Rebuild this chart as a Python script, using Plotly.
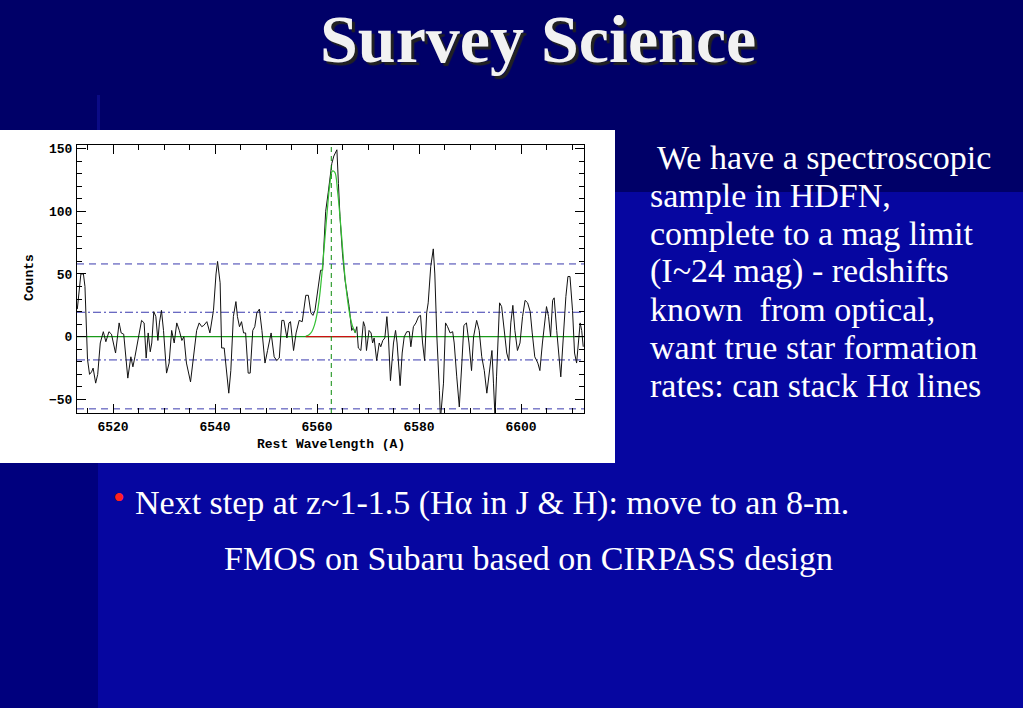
import plotly.graph_objects as go

# ---------------- data ----------------
wavelength = [
    6513.0, 6513.4, 6513.7, 6514.2, 6514.5, 6515.0, 6515.4, 6515.8, 6516.1, 6516.6,
    6517.0, 6517.5, 6518.1, 6518.6, 6519.2, 6519.7, 6520.5, 6521.2, 6521.6, 6522.1,
    6522.9, 6523.5, 6523.9, 6524.3, 6524.8, 6525.6, 6526.1, 6526.5, 6526.9, 6527.3,
    6527.6, 6528.0, 6528.4, 6528.8, 6529.1, 6529.5, 6529.9, 6530.5, 6531.0, 6531.5,
    6532.0, 6532.5, 6533.0, 6533.5, 6533.9, 6534.4, 6535.2, 6535.8, 6536.4, 6536.9,
    6537.4, 6537.8, 6538.4, 6539.0, 6539.7, 6540.2, 6540.5, 6541.0, 6541.3, 6541.8,
    6542.3, 6542.7, 6543.1, 6543.6, 6544.1, 6544.4, 6544.8, 6545.2, 6545.6, 6546.0,
    6546.5, 6546.9, 6547.4, 6547.8, 6548.2, 6548.7, 6549.2, 6549.8, 6550.3, 6551.0,
    6551.6, 6552.1, 6552.6, 6553.1, 6553.5, 6554.1, 6554.5, 6554.8, 6555.4, 6555.9,
    6556.5, 6557.1, 6557.8, 6558.3, 6558.8, 6559.2, 6559.6, 6560.3, 6560.7, 6561.1,
    6561.4, 6561.7, 6562.2, 6562.5, 6562.9, 6563.3, 6563.9, 6564.2, 6564.5, 6565.0,
    6565.5, 6566.0, 6566.3, 6566.8, 6567.1, 6567.5, 6567.8, 6568.1, 6568.6, 6569.1,
    6569.4, 6569.7, 6570.2, 6570.6, 6570.9, 6571.2, 6571.7, 6572.2, 6572.5, 6572.9,
    6573.3, 6573.7, 6574.0, 6574.4, 6575.0, 6575.4, 6575.7, 6576.3, 6576.7, 6577.1,
    6577.6, 6578.1, 6578.4, 6578.9, 6579.4, 6579.9, 6580.3, 6580.7, 6581.1, 6581.5,
    6581.8, 6582.3, 6582.8, 6583.1, 6583.5, 6584.0, 6584.2, 6584.8, 6585.2, 6585.6,
    6586.1, 6586.6, 6586.9, 6587.4, 6587.9, 6588.4, 6588.8, 6589.3, 6589.8, 6590.3,
    6590.7, 6591.3, 6591.8, 6592.3, 6592.8, 6593.3, 6593.8, 6594.3, 6594.6, 6594.9,
    6595.2, 6595.8, 6596.2, 6596.7, 6597.2, 6597.6, 6598.0, 6598.4, 6598.8, 6599.3,
    6599.8, 6600.3, 6600.8, 6601.3, 6601.8, 6602.2, 6602.7, 6603.3, 6603.7, 6604.2,
    6604.6, 6605.0, 6605.4, 6605.8, 6606.2, 6606.5, 6607.0, 6607.5, 6607.8, 6608.3,
    6608.8, 6609.2, 6609.6, 6610.1, 6610.5, 6610.9, 6611.2, 6611.6, 6611.9, 6612.2,
]
counts = [
    22, 42, 50, 50, 40, -18, -30, -28, -25, -37,
    -30, -5, 4, -4, 4, 2, -13, 11, 3, 2,
    -33, -16, -24, -16, -5, 13, 11, -17, 3, -12,
    -5, 20, 16, -3, 11, 21, 5, -29, -21, 5,
    -5, 11, 5, -3, 0, -21, -36, -16, 5, 11,
    8, 9, 12, 3, 21, 50, 60, 43, -9, -9,
    -27, -45, -27, 16, 28, 16, 8, 12, 3, 3,
    -29, -29, 5, 8, 19, 22, 5, -21, -11, 3,
    -16, -19, -17, 13, 13, -1, 11, 12, -11, 3,
    13, 12, 33, 33, 19, 17, 21, 44, 53, 53,
    77, 100, 115, 125, 138, 144, 149, 122, 96, 66,
    45, 32, 24, 5, 7, 3, 8, -9, -11, 12,
    8, -11, 5, 3, -5, -1, -19, -5, -8, -3,
    -1, 16, 0, -35, -5, 5, -5, -39, -13, 0,
    4, 4, -8, 8, 11, 16, 17, -5, -19, 19,
    27, 56, 70, 50, 0, -43, -66, -37, 11, 8,
    3, 4, -5, -32, -56, -21, 9, 11, -5, -27,
    0, 13, 5, -16, -27, -45, -27, -11, -37, -64,
    -32, 27, 24, 5, -13, -19, 11, 25, 5, -11,
    -5, 16, 29, 27, 20, 3, -16, -21, -27, -5,
    11, 24, 16, 0, 29, 31, 5, -16, -32, 0,
    32, 48, 48, 21, -13, -21, -5, 11, 5, -8,
]

# Gaussian fit curve
fit_wavelength = [6557.8, 6558.0, 6558.5, 6559.0, 6559.5, 6560.0, 6560.5, 6561.0, 6561.5,
                  6562.0, 6562.5, 6563.0, 6563.5, 6564.0, 6564.5, 6565.0, 6565.5, 6566.0,
                  6566.5, 6567.0, 6567.6]
fit_counts = [0.5, 0.7, 1.8, 4.2, 9.2, 18, 32, 52, 76,
              100, 121, 132, 131, 117, 96, 71, 47, 29,
              16, 8, 3]

continuum_level = 0
fit_range = [6557.8, 6567.6]
halpha_center = 6562.8
sigma_levels = [19.5, -18.5]
three_sigma_levels = [58, -57.5]
x_range = [6512.94, 6612.35]
y_range = [-60.8, 152.8]
x_tickvals = [6520, 6540, 6560, 6580, 6600]
y_tickvals = [-50, 0, 50, 100, 150]

title_text = "Survey Science"
side_lines = ["We have a spectroscopic", "sample in HDFN,", "complete to a mag limit",
              "(I~24 mag) - redshifts", "known\u00a0 from optical,",
              "want true star formation", "rates: can stack H\u03b1 lines"]
bullet_text = "Next step at z~1-1.5 (H\u03b1 in J &amp; H): move to an 8-m."
second_text = "FMOS on Subaru based on CIRPASS design"

# ---------------- layout helpers ----------------
W, H = 1023, 708
L, R, T, B = 77, 584, 145, 413
PW, PH = R - L, B - T


def px(x):
    return (x - L) / PW


def py(y):
    return (B - y) / PH


SERIF = "Liberation Serif, Times New Roman, serif"
MONO = "Liberation Mono, Courier New, monospace"
BLUE_REF = "#3a3aae"

fig = go.Figure()

# reference lines
for lv in three_sigma_levels:
    fig.add_trace(go.Scatter(x=x_range, y=[lv, lv], mode="lines",
                             line=dict(color=BLUE_REF, width=1, dash="7px,5px"),
                             hoverinfo="skip", showlegend=False))
for lv in sigma_levels:
    fig.add_trace(go.Scatter(x=x_range, y=[lv, lv], mode="lines",
                             line=dict(color=BLUE_REF, width=1, dash="8px,3px,2px,3px"),
                             hoverinfo="skip", showlegend=False))
# green continuum
fig.add_trace(go.Scatter(x=x_range, y=[continuum_level, continuum_level], mode="lines",
                         line=dict(color="#1a9a1a", width=1.2),
                         hoverinfo="skip", showlegend=False))
# spectrum
fig.add_trace(go.Scatter(x=wavelength, y=counts, mode="lines",
                         line=dict(color="#111111", width=1),
                         showlegend=False))
# gaussian fit
fig.add_trace(go.Scatter(x=fit_wavelength, y=fit_counts, mode="lines",
                         line=dict(color="#33c033", width=1.2, shape="spline"),
                         showlegend=False))
# red continuum under fit
fig.add_trace(go.Scatter(x=fit_range, y=[continuum_level, continuum_level], mode="lines",
                         line=dict(color="#cc1010", width=1.2),
                         showlegend=False))
# Halpha marker
fig.add_trace(go.Scatter(x=[halpha_center, halpha_center], y=y_range, mode="lines",
                         line=dict(color="#0b8a0b", width=1, dash="5px,4px"),
                         showlegend=False))

shapes = [
    # blue body
    dict(type="rect", xref="paper", yref="paper", x0=px(98), x1=px(W), y0=py(192), y1=py(H),
         fillcolor="#0606a0", line=dict(width=0), layer="below"),
    # left lower strip
    dict(type="rect", xref="paper", yref="paper", x0=px(0), x1=px(98), y0=py(463), y1=py(H),
         fillcolor="#00007e", line=dict(width=0), layer="below"),
    # faint vertical stripe
    dict(type="rect", xref="paper", yref="paper", x0=px(97), x1=px(100), y0=py(95), y1=py(192),
         fillcolor="#0b0b86", line=dict(width=0), layer="below"),
    # white chart panel
    dict(type="rect", xref="paper", yref="paper", x0=px(0), x1=px(615), y0=py(130), y1=py(463),
         fillcolor="white", line=dict(width=0), layer="below"),
]

annotations = []


def ann(text, x, y, size, color="white", family=SERIF, xanchor="left",
        yanchor="middle", weight="normal", angle=0, shadow="none"):
    annotations.append(dict(text=text, x=px(x), y=py(y), xref="paper", yref="paper",
                            showarrow=False, xanchor=xanchor, yanchor=yanchor,
                            textangle=angle,
                            font=dict(size=size, color=color, family=family, weight=weight,
                                      shadow=shadow)))


# title with shadow
ann(title_text, 538, 39, 68, color="#f2f2f2", xanchor="center", weight="bold",
    shadow="3px 3px 1px #222222")

# side text
for i, line in enumerate(side_lines):
    x0 = 655 if i == 0 else 648
    ann(line, x0, 157 + 38 * i, 34)

# bullet
ann("\u2022", 111, 497, 34, color="#ff2020")
ann(bullet_text, 133, 503, 34)
ann(second_text, 528, 558, 34, xanchor="center")

# axis labels
ann("Rest Wavelength (A)", 331, 444, 13, color="black", family=MONO, xanchor="center",
    weight="bold")
ann("Counts", 29, 278, 13, color="black", family=MONO, xanchor="center", weight="bold",
    angle=-90)

axis_common = dict(showgrid=False, zeroline=False, showline=True, linecolor="black",
                   linewidth=1, mirror="ticks", ticks="inside", ticklen=9, tickcolor="black",
                   tickfont=dict(family=MONO, size=13, color="black", weight="bold"))

fig.update_layout(
    width=W, height=H,
    margin=dict(l=L, r=W - R, t=T, b=H - B, pad=0),
    paper_bgcolor="#000068",
    plot_bgcolor="white",
    showlegend=False,
    shapes=shapes,
    annotations=annotations,
    xaxis=dict(range=x_range, tickvals=x_tickvals, ticklabelstandoff=1,
               minor=dict(dtick=5, tick0=6520, ticklen=5, ticks="inside", tickcolor="black"),
               **axis_common),
    yaxis=dict(range=y_range, tickvals=y_tickvals, ticklabelstandoff=1,
               minor=dict(dtick=10, tick0=0, ticklen=5, ticks="inside", tickcolor="black"),
               **axis_common),
)

fig.write_html("out.html", config=dict(displayModeBar=False),
               post_script="document.body.style.margin='0';document.body.style.overflow='hidden';")
